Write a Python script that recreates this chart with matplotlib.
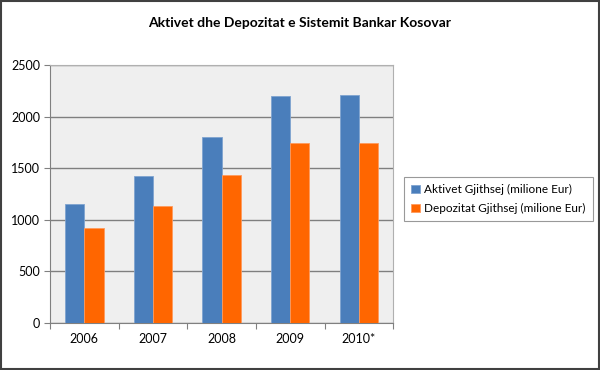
import numpy as np
import matplotlib.pyplot as plt
from matplotlib.patches import Rectangle

plt.rcParams['font.family'] = ['Lato', 'DejaVu Sans']

# data
years = ['2006', '2007', '2008', '2009', '2010*']
aktivet = [1155, 1428, 1800, 2197, 2213]
depozitat = [918, 1138, 1437, 1741, 1747]
labels = ['Aktivet Gjithsej (milione Eur)', 'Depozitat Gjithsej (milione Eur)']

blue = '#4a7ebb'
orange = '#ff6600'
width = 0.28

fig = plt.figure(figsize=(6, 3.7), dpi=100)
ax = fig.add_axes([0.0833, 0.127, 0.572, 0.697])
ax.set_facecolor('#efefef')

x = np.arange(len(years))
ax.bar(x - width / 2, aktivet, width, color=blue, edgecolor='#7fa3d0', linewidth=0.6,
       label=labels[0], zorder=3)
ax.bar(x + width / 2, depozitat, width, color=orange, edgecolor='#ff9a5c', linewidth=0.6,
       label=labels[1], zorder=3)

ax.set_xlim(-0.5, len(years) - 0.5)
ax.set_ylim(0, 2500)
ax.set_yticks(range(0, 2501, 500))
ax.yaxis.grid(True, color='#7f7f7f', linewidth=1, zorder=1)

# category ticks on the boundaries, labels centred
ax.set_xticks(np.arange(-0.5, len(years), 1))
ax.set_xticklabels([])
ax.set_xticks(x, minor=True)
ax.set_xticklabels(years, minor=True, fontsize=9)
ax.tick_params(axis='x', which='minor', length=0, pad=7)
ax.tick_params(axis='x', which='major', length=4, color='#808080')
ax.tick_params(axis='y', length=4, color='#808080', labelsize=9, pad=3)

for side in ['left', 'bottom']:
    ax.spines[side].set_color('#808080')
for side in ['top', 'right']:
    ax.spines[side].set_color('#b0b0b0')

fig.suptitle('Aktivet dhe Depozitat e Sistemit Bankar Kosovar', fontsize=10,
             fontweight='bold', x=0.5, y=0.955)

leg = fig.legend(loc='upper left', bbox_to_anchor=(0.664, 0.538), fontsize=8.5,
                 frameon=True, fancybox=False, edgecolor='#808080',
                 handlelength=0.7, handleheight=0.7, handletextpad=0.4,
                 borderpad=0.6, labelspacing=0.7)
leg.get_frame().set_linewidth(0.8)

fig.patches.append(Rectangle((0.002, 0.003), 0.996, 0.994, transform=fig.transFigure,
                             fill=False, edgecolor='#404040', linewidth=1.5))

plt.savefig('out.png', dpi=100)
